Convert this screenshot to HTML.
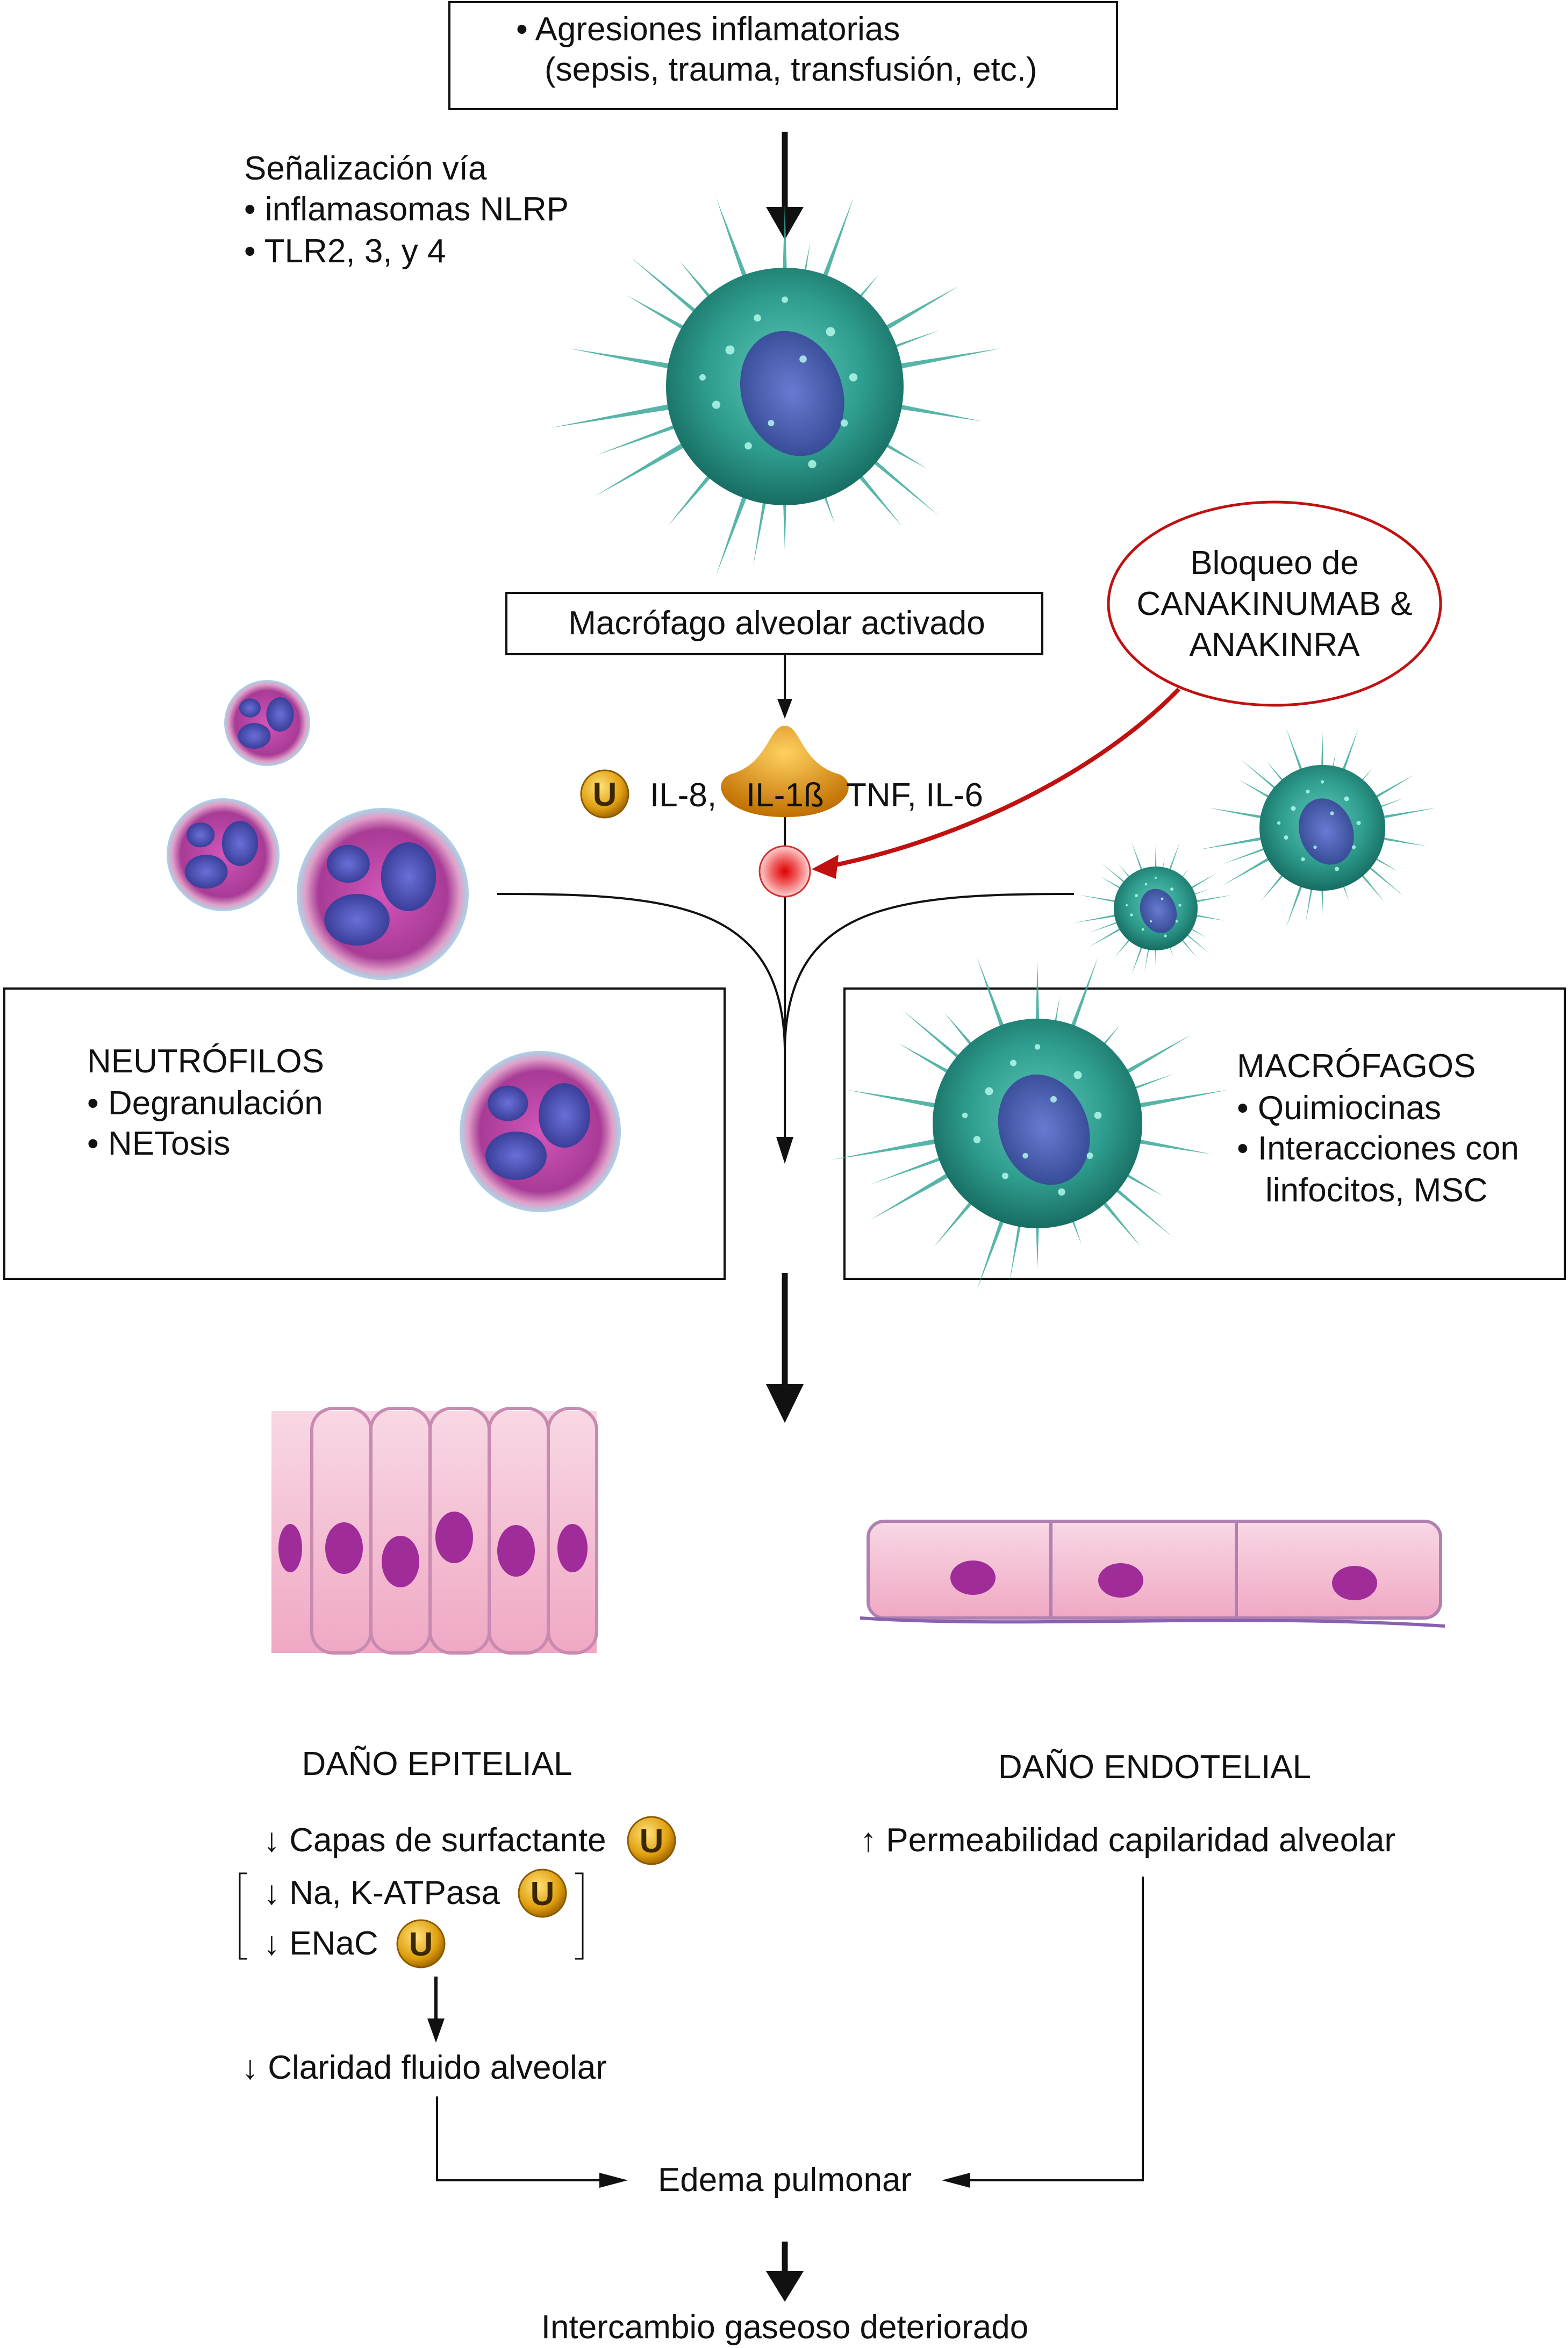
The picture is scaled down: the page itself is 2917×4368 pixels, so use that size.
<!DOCTYPE html>
<html><head><meta charset="utf-8"><style>
html,body{margin:0;padding:0;background:#fff}
svg{display:block}
text{font-family:"Liberation Sans",Arial,sans-serif;fill:#111}
</style></head><body>
<svg width="2917" height="4368" viewBox="0 0 2917 4368" xmlns="http://www.w3.org/2000/svg">
<defs>
<radialGradient id="mac" cx="50%" cy="45%" r="55%">
<stop offset="0" stop-color="#5cc7b8"/><stop offset="0.6" stop-color="#2f9d8e"/><stop offset="1" stop-color="#176d62"/></radialGradient>
<radialGradient id="nuc" cx="50%" cy="50%" r="50%">
<stop offset="0" stop-color="#6a6fd8"/><stop offset="1" stop-color="#3a3f9a"/></radialGradient>
<radialGradient id="neu" cx="50%" cy="50%" r="50%">
<stop offset="0" stop-color="#d255b8"/><stop offset="0.75" stop-color="#a83b96"/><stop offset="0.9" stop-color="#e0a0c8"/><stop offset="1" stop-color="#a8d4e8"/></radialGradient>
<radialGradient id="gold" cx="40%" cy="35%" r="65%">
<stop offset="0" stop-color="#ffe27a"/><stop offset="0.7" stop-color="#e0a010"/><stop offset="1" stop-color="#a66a00"/></radialGradient>
<radialGradient id="tri" cx="50%" cy="30%" r="70%">
<stop offset="0" stop-color="#ffd060"/><stop offset="1" stop-color="#c07000"/></radialGradient>
<radialGradient id="red" cx="50%" cy="50%" r="50%">
<stop offset="0" stop-color="#e00000"/><stop offset="0.5" stop-color="#f06060"/><stop offset="1" stop-color="#ffd0d0"/></radialGradient>
<linearGradient id="epi" x1="0" x2="0" y1="0" y2="1">
<stop offset="0" stop-color="#f8d8e4"/><stop offset="1" stop-color="#f0a8c4"/></linearGradient>
<polygon id="spk" points="-12,0 12,0 0,-400" fill="#3aa898" opacity="0.85"/>
<g id="U"><circle r="44" fill="url(#gold)" stroke="#8a5a00" stroke-width="3"/><text x="0" y="22" text-anchor="middle" font-size="62" font-weight="bold" style="fill:#3a2800">U</text></g>
<g id="macro">
<g>
<use href="#spk" transform="rotate(0)"/><use href="#spk" transform="rotate(20) scale(1,1.1)"/><use href="#spk" transform="rotate(40) scale(1,0.8)"/><use href="#spk" transform="rotate(60) scale(1,1.1)"/><use href="#spk" transform="rotate(80) scale(1,1.2)"/><use href="#spk" transform="rotate(100) scale(1,1.1)"/><use href="#spk" transform="rotate(120) scale(1,0.9)"/><use href="#spk" transform="rotate(140) scale(1,1)"/><use href="#spk" transform="rotate(160) scale(1,0.8)"/><use href="#spk" transform="rotate(180) scale(1,0.9)"/><use href="#spk" transform="rotate(200) scale(1,1.1)"/><use href="#spk" transform="rotate(220) scale(1,1)"/><use href="#spk" transform="rotate(240) scale(1,1.2)"/><use href="#spk" transform="rotate(260) scale(1,1.3)"/><use href="#spk" transform="rotate(280) scale(1,1.2)"/><use href="#spk" transform="rotate(300) scale(1,1)"/><use href="#spk" transform="rotate(320) scale(1,0.9)"/><use href="#spk" transform="rotate(340) scale(1,1.1)"/>
<use href="#spk" transform="rotate(10) scale(0.8,0.8)"/><use href="#spk" transform="rotate(70) scale(0.8,0.9)"/><use href="#spk" transform="rotate(130) scale(0.8,1.1)"/><use href="#spk" transform="rotate(190) scale(0.8,1)"/><use href="#spk" transform="rotate(250) scale(0.8,1.1)"/><use href="#spk" transform="rotate(310) scale(0.8,1.1)"/>
</g>
<circle r="260" fill="url(#mac)"/>
<ellipse cx="10" cy="20" rx="110" ry="140" transform="rotate(-20)" fill="url(#nuc)" opacity="0.85"/>
<g fill="#b8fff0" opacity="0.8"><circle cx="-120" cy="-80" r="10"/><circle cx="-60" cy="-150" r="8"/><circle cx="100" cy="-120" r="10"/><circle cx="150" cy="-20" r="9"/><circle cx="130" cy="80" r="8"/><circle cx="-150" cy="40" r="9"/><circle cx="-80" cy="130" r="8"/><circle cx="60" cy="170" r="9"/><circle cx="0" cy="-190" r="7"/><circle cx="-180" cy="-20" r="7"/><circle cx="40" cy="-60" r="8"/><circle cx="-30" cy="80" r="7"/></g>
</g>
<g id="neut">
<circle r="100" fill="url(#neu)"/>
<ellipse cx="-30" cy="30" rx="38" ry="30" fill="url(#nuc)"/>
<ellipse cx="30" cy="-20" rx="32" ry="40" fill="url(#nuc)"/>
<ellipse cx="-40" cy="-35" rx="25" ry="22" fill="url(#nuc)"/>
</g>
</defs>

<rect x="836" y="4" width="1242" height="199" fill="#fff" stroke="#111" stroke-width="4"/>
<text x="960" y="75" font-size="62">•  Agresiones inflamatorias</text>
<text x="1013" y="150" font-size="62">(sepsis, trauma, transfusión, etc.)</text>

<line x1="1460" y1="245" x2="1460" y2="390" stroke="#111" stroke-width="11"/>
<path d="M1425,385 L1495,385 L1460,446 z" fill="#111"/>

<text font-size="62"><tspan x="454" y="334">Señalización vía</tspan><tspan x="454" y="410">•  inflamasomas NLRP</tspan><tspan x="454" y="488">•  TLR2, 3, y 4</tspan></text>

<use href="#macro" transform="translate(1460,719) scale(0.85)"/>

<rect x="942" y="1103" width="997" height="114" fill="#fff" stroke="#111" stroke-width="4"/>
<text x="1445" y="1180" font-size="62" text-anchor="middle">Macrófago alveolar activado</text>
<line x1="1460" y1="1217" x2="1460" y2="1305" stroke="#111" stroke-width="4"/>
<path d="M1460,1337 L1446,1300 L1474,1300 z" fill="#111"/>

<path d="M1460,1350 C1490,1350 1490,1420 1560,1440 C1600,1455 1580,1520 1460,1520 C1340,1520 1320,1455 1360,1440 C1430,1420 1430,1350 1460,1350 z" fill="url(#tri)"/>
<use href="#U" transform="translate(1125,1477)"/>
<text x="1209" y="1500" font-size="62">IL-8,</text>
<text x="1388" y="1500" font-size="62">IL-1ß</text>
<text x="1574" y="1500" font-size="62">TNF,  IL-6</text>

<ellipse cx="2371" cy="1123" rx="309" ry="189" fill="#fff" stroke="#c01010" stroke-width="5"/>
<text font-size="62" text-anchor="middle"><tspan x="2371" y="1068">Bloqueo de</tspan><tspan x="2371" y="1144">CANAKINUMAB &amp;</tspan><tspan x="2371" y="1220">ANAKINRA</tspan></text>
<path d="M2193,1282 C2050,1430 1800,1560 1540,1612" fill="none" stroke="#c01010" stroke-width="8"/>
<path d="M1510,1617 L1560,1590 L1555,1635 z" fill="#c01010"/>

<line x1="1460" y1="1520" x2="1460" y2="2120" stroke="#111" stroke-width="4"/>
<path d="M1460,2165 L1444,2115 L1476,2115 z" fill="#111"/>
<circle cx="1460" cy="1621" r="47" fill="url(#red)"/>
<circle cx="1460" cy="1621" r="47" fill="none" stroke="#d03030" stroke-width="3"/>
<path d="M925,1663 C1250,1663 1455,1680 1460,1950" fill="none" stroke="#111" stroke-width="4"/>
<path d="M1998,1663 C1670,1663 1465,1680 1460,1950" fill="none" stroke="#111" stroke-width="4"/>

<use href="#neut" transform="translate(497,1345) scale(0.8)"/>
<use href="#neut" transform="translate(415,1590) scale(1.05)"/>
<use href="#neut" transform="translate(712,1663) scale(1.6)"/>
<use href="#macro" transform="translate(2150,1690) scale(0.3)"/>
<use href="#macro" transform="translate(2460,1540) scale(0.45)"/>

<rect x="8" y="1839" width="1340" height="540" fill="#fff" stroke="#111" stroke-width="4"/>
<text font-size="62"><tspan x="162" y="1995">NEUTRÓFILOS</tspan><tspan x="162" y="2073">•  Degranulación</tspan><tspan x="162" y="2148">•  NETosis</tspan></text>
<use href="#neut" transform="translate(1005,2105) scale(1.5)"/>

<rect x="1571" y="1839" width="1340" height="540" fill="#fff" stroke="#111" stroke-width="4"/>
<use href="#macro" transform="translate(1930,2090) scale(0.75)"/>
<text font-size="62"><tspan x="2301" y="2004">MACRÓFAGOS</tspan><tspan x="2301" y="2082">•  Quimiocinas</tspan><tspan x="2301" y="2157">•  Interacciones con</tspan><tspan x="2354" y="2235">linfocitos, MSC</tspan></text>

<line x1="1460" y1="2368" x2="1460" y2="2580" stroke="#111" stroke-width="11"/>
<path d="M1425,2575 L1495,2575 L1460,2647 z" fill="#111"/>

<g>
<rect x="505" y="2625" width="605" height="450" fill="url(#epi)"/>
<g fill="none" stroke="#c88ab0" stroke-width="6">
<rect x="580" y="2620" width="110" height="455" rx="40"/><rect x="690" y="2620" width="110" height="455" rx="40"/><rect x="800" y="2620" width="110" height="455" rx="40"/><rect x="910" y="2620" width="110" height="455" rx="40"/><rect x="1020" y="2620" width="90" height="455" rx="40"/>
</g>
<g fill="#a02c9a"><ellipse cx="640" cy="2880" rx="35" ry="48"/><ellipse cx="745" cy="2905" rx="35" ry="48"/><ellipse cx="845" cy="2860" rx="35" ry="48"/><ellipse cx="960" cy="2885" rx="35" ry="48"/><ellipse cx="1065" cy="2880" rx="28" ry="45"/><ellipse cx="540" cy="2880" rx="22" ry="45"/></g>
</g>
<g>
<rect x="1615" y="2830" width="1065" height="180" rx="30" fill="url(#epi)" stroke="#b080b0" stroke-width="6"/>
<line x1="1955" y1="2830" x2="1955" y2="3010" stroke="#b080b0" stroke-width="6"/>
<line x1="2300" y1="2830" x2="2300" y2="3010" stroke="#b080b0" stroke-width="6"/>
<path d="M1600,3010 C1900,3030 2300,3000 2688,3025" fill="none" stroke="#8a60b0" stroke-width="6"/>
<g fill="#a02c9a"><ellipse cx="1810" cy="2935" rx="42" ry="32"/><ellipse cx="2085" cy="2940" rx="42" ry="32"/><ellipse cx="2520" cy="2945" rx="42" ry="32"/></g>
</g>

<text x="813" y="3302" font-size="62" text-anchor="middle">DAÑO EPITELIAL</text>
<text x="2148" y="3308" font-size="62" text-anchor="middle">DAÑO ENDOTELIAL</text>

<text x="490" y="3444" font-size="62">↓ Capas de surfactante</text>
<use href="#U" transform="translate(1212,3424)"/>
<text x="490" y="3542" font-size="62">↓ Na, K-ATPasa</text>
<use href="#U" transform="translate(1009,3522)"/>
<text x="490" y="3636" font-size="62">↓ ENaC</text>
<use href="#U" transform="translate(783,3616)"/>
<path d="M460,3485 L446,3485 L446,3644 L460,3644" fill="none" stroke="#111" stroke-width="3"/>
<path d="M1070,3485 L1084,3485 L1084,3644 L1070,3644" fill="none" stroke="#111" stroke-width="3"/>
<line x1="811" y1="3677" x2="811" y2="3760" stroke="#111" stroke-width="6"/>
<path d="M795,3755 L827,3755 L811,3800 z" fill="#111"/>
<text x="450" y="3867" font-size="62">↓ Claridad fluido alveolar</text>

<text x="1600" y="3444" font-size="62">↑ Permeabilidad capilaridad alveolar</text>

<path d="M813,3900 L813,4056 L1130,4056" fill="none" stroke="#111" stroke-width="4"/>
<path d="M1168,4056 L1115,4042 L1115,4070 z" fill="#111"/>
<path d="M2126,3491 L2126,4056 L1790,4056" fill="none" stroke="#111" stroke-width="4"/>
<path d="M1752,4056 L1805,4042 L1805,4070 z" fill="#111"/>
<text x="1460" y="4076" font-size="62" text-anchor="middle">Edema pulmonar</text>

<line x1="1460" y1="4170" x2="1460" y2="4230" stroke="#111" stroke-width="11"/>
<path d="M1425,4225 L1495,4225 L1460,4282 z" fill="#111"/>
<text x="1460" y="4350" font-size="62" text-anchor="middle">Intercambio gaseoso deteriorado</text>
</svg>
</body></html>
